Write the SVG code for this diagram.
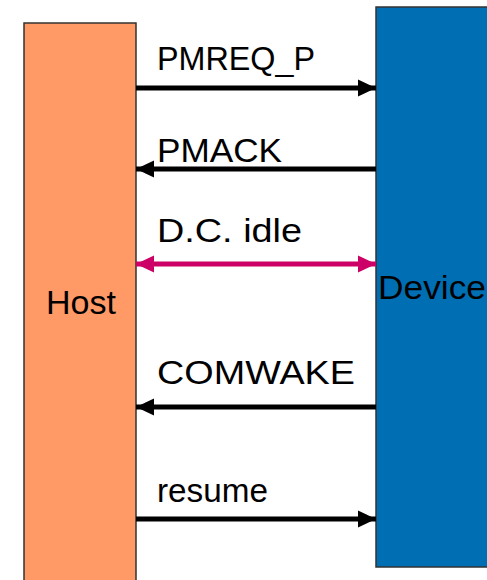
<svg xmlns="http://www.w3.org/2000/svg" width="487" height="580" viewBox="0 0 487 580">
  <style>
    .lbl { font-family: "Liberation Sans", Arial, sans-serif; font-size: 33px; fill: #000; }
    .node { stroke: #333; stroke-width: 1.5; }
    .msg { stroke: #000; stroke-width: 5; fill: none; }
    .idle { stroke: #CC0066; stroke-width: 5; fill: none; }
  </style>
  <defs>
    <marker id="ah" markerUnits="userSpaceOnUse" markerWidth="18" markerHeight="18" refX="18" refY="9" orient="auto">
      <path d="M0,0.5 L18,9 L0,17.5 z" fill="#000"/>
    </marker>
    <marker id="ahPink" markerUnits="userSpaceOnUse" markerWidth="18" markerHeight="18" refX="18" refY="9" orient="auto">
      <path d="M0,0.5 L18,9 L0,17.5 z" fill="#CC0066"/>
    </marker>
    <marker id="ahPinkStart" markerUnits="userSpaceOnUse" markerWidth="18" markerHeight="18" refX="0" refY="9" orient="auto">
      <path d="M18,0.5 L0,9 L18,17.5 z" fill="#CC0066"/>
    </marker>
  </defs>
  <rect width="487" height="580" fill="#fff"/>

  <g id="host">
    <rect class="node" x="24" y="23" width="112" height="570" fill="#FF9966"/>
    <text class="lbl" x="46" y="314" textLength="70" lengthAdjust="spacingAndGlyphs">Host</text>
  </g>

  <g id="device">
    <rect class="node" x="376" y="7" width="120" height="560" fill="#006EB3"/>
    <text class="lbl" x="378" y="299" textLength="108" lengthAdjust="spacingAndGlyphs">Device</text>
  </g>

  <g id="connectors">
    <line class="msg" x1="136" y1="88" x2="376" y2="88" marker-end="url(#ah)"/>
    <line class="msg" x1="376" y1="169" x2="136" y2="169" marker-end="url(#ah)"/>
    <line class="idle" x1="136" y1="264" x2="376" y2="264" marker-start="url(#ahPinkStart)" marker-end="url(#ahPink)"/>
    <line class="msg" x1="376" y1="407" x2="136" y2="407" marker-end="url(#ah)"/>
    <line class="msg" x1="136" y1="519" x2="376" y2="519" marker-end="url(#ah)"/>
  </g>

  <g id="labels">
    <text class="lbl" x="157" y="70" textLength="158" lengthAdjust="spacingAndGlyphs">PMREQ_P</text>
    <text class="lbl" x="157" y="162" textLength="125" lengthAdjust="spacingAndGlyphs">PMACK</text>
    <text class="lbl" x="157" y="242" textLength="145" lengthAdjust="spacingAndGlyphs">D.C. idle</text>
    <text class="lbl" x="157" y="384" textLength="198" lengthAdjust="spacingAndGlyphs">COMWAKE</text>
    <text class="lbl" x="157" y="502" textLength="111" lengthAdjust="spacingAndGlyphs">resume</text>
  </g>
</svg>
